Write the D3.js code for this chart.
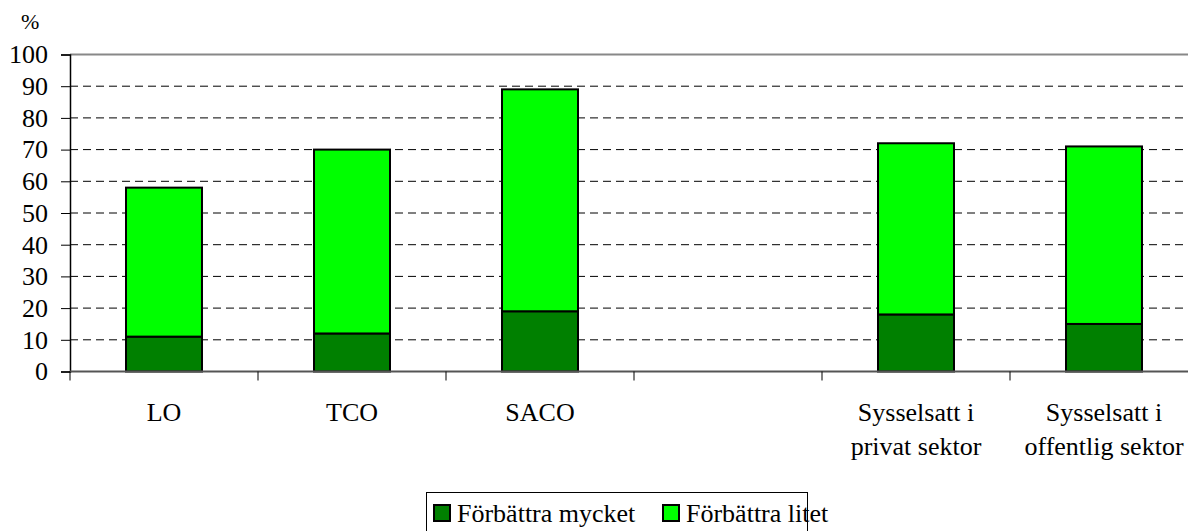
<!DOCTYPE html>
<html><head><meta charset="utf-8">
<script src="https://cdn.jsdelivr.net/npm/d3@7"></script>
<style>body{margin:0;background:#fff}svg{display:block}</style>
</head><body><svg id="c" width="1188" height="531" font-family="DejaVu Serif, serif"></svg>
<script>
const categories = [["LO"],["TCO"],["SACO"],[""],["Sysselsatt i","privat sektor"],["Sysselsatt i","offentlig sektor"]];
const catKeys = ["LO","TCO","SACO","blank","privat","offentlig"];
const mycket = [11,12,19,null,18,15];
const litet = [47,58,70,null,54,56];
const yTicks = [0,10,20,30,40,50,60,70,80,90,100];
const seriesNames = ["Förbättra mycket","Förbättra litet"];
const colors = ["#008000","#00ff00"];

(function(){
const FONT = "'Liberation Serif', 'DejaVu Serif', serif";
const svg = d3.select("#c");
const mLeft = 70, mRight = 1198, mTop = 54.5, mBottom = 371.5;
const x = d3.scaleBand().domain(catKeys).range([mLeft,mRight]).paddingInner(0).paddingOuter(0);
const y = d3.scaleLinear().domain([0,100]).range([mBottom,mTop]);
const barW = 76;

svg.append("g").selectAll("line").data(yTicks.filter(d=>d>0)).join("line")
  .attr("x1",mLeft).attr("x2",1188).attr("y1",d=>y(d)).attr("y2",d=>y(d))
  .attr("stroke",d=>d===100?"#888":"#000").attr("stroke-width",d=>d===100?2:1)
  .attr("stroke-dasharray",d=>d===100?null:"8,5");

const rows = catKeys.map((k,i)=>({k,m:mycket[i],l:litet[i]})).filter(r=>r.m!==null);
const g = svg.append("g");
rows.forEach(r=>{
  const cx = x(r.k)+x.bandwidth()/2;
  g.append("rect").attr("x",cx-barW/2).attr("width",barW).attr("y",y(r.m)).attr("height",y(0)-y(r.m))
    .attr("fill",colors[0]).attr("stroke","#000").attr("stroke-width",2);
  g.append("rect").attr("x",cx-barW/2).attr("width",barW).attr("y",y(r.m+r.l)).attr("height",y(r.m)-y(r.m+r.l))
    .attr("fill",colors[1]).attr("stroke","#000").attr("stroke-width",2);
});

const ya = svg.append("g").attr("transform",`translate(${mLeft},0)`)
  .call(d3.axisLeft(y).tickValues(yTicks).tickSize(9).tickPadding(13));
ya.attr("font-family",FONT).attr("font-size",26);
ya.select(".domain").attr("stroke","#000").attr("stroke-width",1.5);
ya.selectAll(".tick line").attr("stroke","#000");
ya.selectAll("text").style("font-family",FONT).attr("font-size",26).attr("fill","#000");

svg.append("line").attr("x1",mLeft).attr("x2",1188).attr("y1",mBottom).attr("y2",mBottom).attr("stroke","#555").attr("stroke-width",2);
svg.append("g").selectAll("line").data(catKeys).join("line")
  .attr("x1",d=>x(d)).attr("x2",d=>x(d)).attr("y1",mBottom).attr("y2",mBottom+9).attr("stroke","#000");

const cl = svg.append("g");
catKeys.forEach((k,i)=>{
  const cx = x(k)+x.bandwidth()/2;
  const t = cl.append("text").attr("text-anchor","middle").attr("font-size",26).style("font-family",FONT);
  categories[i].forEach((s,j)=>t.append("tspan").attr("x",cx).attr("y",421+j*34).text(s));
});

svg.append("text").attr("x",21).attr("y",29).attr("font-size",22).style("font-family",FONT).text("%");

svg.append("rect").attr("x",426.5).attr("y",492.5).attr("width",381).attr("height",45).attr("fill","#fff").attr("stroke","#000");
const lx = [434,663];
seriesNames.forEach((n,i)=>{
  svg.append("rect").attr("x",lx[i]).attr("y",505).attr("width",16).attr("height",16).attr("fill",colors[i]).attr("stroke","#000").attr("stroke-width",2);
  svg.append("text").attr("x",lx[i]+23).attr("y",522).attr("font-size",26).style("font-family",FONT).text(n);
});
})();
</script></body></html>
